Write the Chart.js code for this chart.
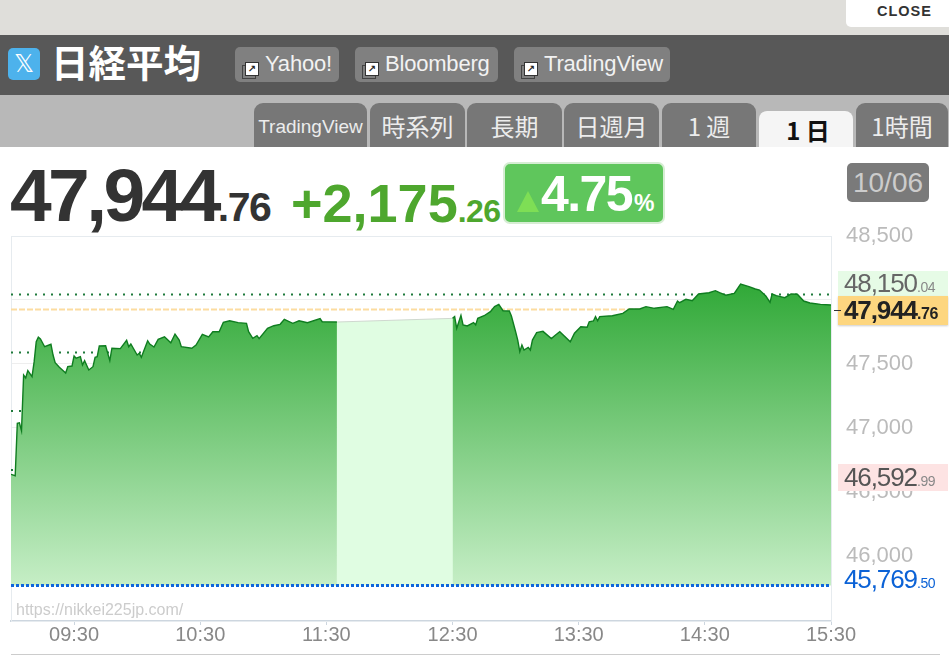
<!DOCTYPE html>
<html lang="ja">
<head>
<meta charset="utf-8">
<title>日経平均</title>
<script src="https://cdn.jsdelivr.net/npm/chart.js@4/dist/chart.umd.min.js"></script>
<style>
  html, body { margin: 0; padding: 0; background: #fff; }
  body { position: relative; width: 949px; height: 655px; overflow: hidden; font-family: "Liberation Sans", "Noto Sans CJK JP", sans-serif; }
  .abs { position: absolute; white-space: nowrap; }
  #topband { left: 0; top: 0; width: 949px; height: 35px; background: #dfdeda; }
  #close { left: 846px; top: 0; width: 103px; height: 27px; background: #fff; border-bottom-left-radius: 5px; font: bold 14.5px/23px "Liberation Sans"; letter-spacing: 1px; color: #333; text-indent: 31px; }
  #headband { left: 0; top: 35px; width: 949px; height: 60px; background: #585858; }
  #xicon { left: 8px; top: 48px; width: 32px; height: 32px; border-radius: 5px; background: #4db2ec; color: #fff; font: 25px/32px "DejaVu Sans"; text-align: center; }
  #title { left: 51px; top: 34px; font: bold 37.5px/54px "Noto Sans CJK JP"; color: #fff; }
  .link { top: 47px; height: 35px; background: #808080; border-radius: 5px; color: #f2f2f2; font-size: 22px; line-height: 33px; }
  .link span { position: absolute; left: 30px; top: 0; letter-spacing: -0.2px; }
  .link i { position: absolute; left: 10px; top: 15px; width: 12px; height: 12px; background: #fff; border: 1px solid #333; font: bold 10px/12px "DejaVu Sans"; text-align: center; color: #222; box-shadow: -3px 3px 0 -1px #808080, -3px 3px 0 0 #444; }
  #tabband { left: 0; top: 95px; width: 949px; height: 52px; background: #b8b8b8; }
  .tab { top: 103px; height: 44px; background: #777; border-radius: 9px 9px 0 0; color: #ececec; text-align: center; font: 400 24px/46px "Noto Sans CJK JP"; }
  #tabActive { top: 111px; height: 36px; background: #f5f5f5; color: #111; font-weight: 700; line-height: 37px; border-radius: 8px 8px 0 0; text-indent: 4px; }
  #price { left: 10px; top: 151px; font: bold 75px/88px "Liberation Sans"; letter-spacing: -3.6px; color: #333; }
  #price small { font-size: 41px; letter-spacing: -1.5px; }
  #change { left: 291px; top: 170px; font: bold 54px/66px "Liberation Sans"; color: #4ea72e; }
  #change small { font-size: 32px; letter-spacing: -0.5px; }
  #badge { left: 503px; top: 162px; width: 158px; height: 58px; background: #5fc65c; border: 2px solid #d6edd3; border-radius: 7px; }
  #tri { left: 12px; top: 27px; width: 0; height: 0; border-left: 11px solid transparent; border-right: 11px solid transparent; border-bottom: 21px solid #7ede55; }
  #pct { left: 36px; top: 0; font: bold 50px/60px "Liberation Sans"; letter-spacing: -1.6px; color: #fff; }
  #pct small { font-size: 23px; letter-spacing: 0; margin-left: 2px; }
  #date { left: 847px; top: 163px; width: 82px; height: 39px; background: #7a7a7a; border-radius: 5px; color: #ccc; text-align: center; font-size: 28px; line-height: 39px; }
  #chartCanvas { position: absolute; left: 0; top: 210px; }
  .side { left: 838px; width: 110px; font-size: 26px; letter-spacing: -1.1px; text-indent: 6px; }
  .side small { font-size: 14px; letter-spacing: -0.4px; }
  #sideHigh { top: 271px; height: 25px; line-height: 25px; background: #e6fbe6; color: #666; }
  #sideHigh small, #sideLow small { color: #888; }
  #sideNow { top: 296px; height: 29px; line-height: 28px; background: #fdd67f; color: #222; font-weight: bold; box-shadow: 0 1px 2px #ccc; }
  #sideNow small { font-size: 16px; }
  #sideLow { top: 464px; height: 27px; line-height: 26px; background: #fde3e3; color: #555; }
  #sideBase { top: 565px; height: 28px; line-height: 28px; color: #0b62d6; }
  #nowTick { left: 834px; top: 310px; width: 7px; height: 1px; background: #333; }
  #watermark { left: 16px; top: 600px; font-size: 16px; line-height: 20px; color: #ccc; }
  #footline { left: 11px; top: 654px; width: 929px; height: 1px; background: #ccc; }
</style>
</head>
<body>
<div class="abs" id="topband"></div>
<div class="abs" id="close">CLOSE</div>
<div class="abs" id="headband"></div>
<div class="abs" id="xicon">𝕏</div>
<div class="abs" id="title">日経平均</div>
<div class="abs link" style="left:235px;width:104px"><i>↗</i><span>Yahoo!</span></div>
<div class="abs link" style="left:355px;width:143px"><i>↗</i><span>Bloomberg</span></div>
<div class="abs link" style="left:514px;width:156px"><i>↗</i><span>TradingView</span></div>
<div class="abs" id="tabband"></div>
<div class="abs tab" style="left:254px;width:113px;font:19px/47px 'Liberation Sans'">TradingView</div>
<div class="abs tab" style="left:370px;width:95px">時系列</div>
<div class="abs tab" style="left:467px;width:95px">長期</div>
<div class="abs tab" style="left:564px;width:95px">日週月</div>
<div class="abs tab" style="left:662px;width:94px">1 週</div>
<div class="abs tab" id="tabActive" style="left:759px;width:94px">1 日</div>
<div class="abs tab" style="left:856px;width:92px">1時間</div>
<div class="abs" id="price">47,944<small>.76</small></div>
<div class="abs" id="change">+2,175<small>.26</small></div>
<div class="abs" id="badge"><div class="abs" id="tri"></div><div class="abs" id="pct">4.75<small>%</small></div></div>
<div class="abs" id="date">10/06</div>
<canvas id="chartCanvas" width="949" height="445"></canvas>
<div class="abs side" id="sideHigh">48,150<small>.04</small></div>
<div class="abs side" id="sideNow">47,944<small>.76</small></div>
<div class="abs side" id="sideLow">46,592<small>.99</small></div>
<div class="abs side" id="sideBase">45,769<small>.50</small></div>
<div class="abs" id="nowTick"></div>
<div class="abs" id="watermark">https://nikkei225jp.com/</div>
<div class="abs" id="footline"></div>

<script>
// minutes after 09:00
const xTicks = [30, 90, 150, 210, 270, 330, 390];
const xTickLabels = ["09:30", "10:30", "11:30", "12:30", "13:30", "14:30", "15:30"];
const yTicks = [46000, 46500, 47000, 47500, 48000, 48500];

const morningMinutes = [0, 2, 3, 4, 5, 6, 7, 8, 10, 11, 12, 13, 14, 16, 19, 20, 21, 23, 26, 27, 29, 30, 31, 33, 34, 35, 37, 39, 40, 41, 42, 45, 47, 48, 52, 55, 56, 57, 60, 61, 62, 65, 66, 68, 70, 73, 76, 78, 80, 81, 86, 88, 91, 94, 96, 99, 101, 104, 108, 112, 113, 115, 117, 118, 122, 125, 128, 130, 134, 137, 141, 147, 148, 155];
const morningValues = [46638, 46627, 47037, 47041, 46979, 47414, 47391, 47448, 47401, 47516, 47674, 47709, 47695, 47635, 47654, 47570, 47510, 47474, 47430, 47479, 47484, 47562, 47545, 47557, 47492, 47526, 47453, 47479, 47552, 47557, 47641, 47643, 47526, 47623, 47620, 47685, 47635, 47656, 47570, 47584, 47552, 47682, 47656, 47633, 47693, 47713, 47666, 47734, 47687, 47635, 47623, 47648, 47732, 47711, 47752, 47752, 47826, 47838, 47823, 47818, 47752, 47701, 47721, 47698, 47779, 47799, 47810, 47849, 47818, 47838, 47823, 47854, 47830, 47828];

const afternoonMinutes = [210, 211, 212, 214, 215, 217, 220, 221, 222, 225, 228, 230, 232, 234, 237, 238, 240, 241, 242, 243, 244, 246, 247, 248, 250, 253, 257, 259, 261, 266, 268, 271, 274, 275, 277, 278, 279, 280, 286, 291, 294, 299, 302, 306, 312, 315, 317, 318, 321, 324, 327, 332, 335, 337, 340, 344, 347, 351, 354, 356, 359, 361, 362, 364, 368, 371, 374, 377, 380, 385, 390];
const afternoonValues = [47857, 47870, 47779, 47880, 47805, 47797, 47823, 47805, 47857, 47877, 47909, 47948, 47966, 47916, 47914, 47875, 47752, 47687, 47596, 47648, 47609, 47630, 47609, 47687, 47745, 47755, 47698, 47727, 47752, 47674, 47740, 47791, 47787, 47830, 47836, 47870, 47838, 47870, 47877, 47896, 47930, 47930, 47948, 47935, 47948, 47927, 47992, 47979, 48005, 47995, 48047, 48057, 48073, 48057, 48037, 48052, 48125, 48104, 48086, 48078, 48031, 47982, 48047, 48034, 48018, 48047, 48045, 47992, 47977, 47966, 47961];

const lunchMinutes = [155, 211];
const lunchValues = [47828, 47857];

const prevCloseLevel = 45769.5;
const orangeLevel = 47926;
const greenLevels = [48043, 47590, 47133, 46672, 46215];

const toPoints = (xs, ys) => xs.map((x, i) => ({ x: x, y: ys[i] }));
const flatLine = (level) => toPoints([0, 390], [level, level]);

const areaGradient = (context) => {
  const chart = context.chart;
  if (!chart.chartArea) return "#5fc05f";
  const yScale = chart.scales.y;
  const g = chart.ctx.createLinearGradient(0, yScale.getPixelForValue(48150), 0, yScale.getPixelForValue(prevCloseLevel));
  g.addColorStop(0, "#2fa836");
  g.addColorStop(1, "#c6eec6");
  return g;
};

const datasets = [
  { data: flatLine(prevCloseLevel), borderColor: "#0d66dc", borderWidth: 3, borderDash: [3, 2], order: 0 },
  { data: toPoints(morningMinutes, morningValues), borderColor: "#0f7d20", borderWidth: 1.4, backgroundColor: areaGradient, fill: { value: prevCloseLevel }, order: 1 },
  { data: toPoints(afternoonMinutes, afternoonValues), borderColor: "#0f7d20", borderWidth: 1.4, backgroundColor: areaGradient, fill: { value: prevCloseLevel }, order: 1 },
  { data: toPoints(lunchMinutes, lunchValues), borderColor: "#cfd8cf", borderWidth: 1, backgroundColor: "#e0fde2", fill: { value: prevCloseLevel }, order: 2 },
  { data: flatLine(orangeLevel), borderColor: "#fcdca0", borderWidth: 2, borderDash: [6, 2], order: 3 },
];
greenLevels.forEach((level) => {
  datasets.push({ data: flatLine(level), borderColor: "#1f7a3c", borderWidth: 2, borderDash: [2, 6], order: 3 });
});

// thin frame round the plot
const plotFrame = {
  id: "plotFrame",
  beforeDatasetsDraw(chart) {
    const a = chart.chartArea;
    chart.ctx.save();
    chart.ctx.strokeStyle = "#e6ebef";
    chart.ctx.lineWidth = 1;
    chart.ctx.strokeRect(a.left + 0.5, a.top + 0.5, a.right - a.left, a.bottom - a.top);
    chart.ctx.restore();
  },
};

new Chart(document.getElementById("chartCanvas").getContext("2d"), {
  type: "line",
  data: { datasets: datasets },
  plugins: [plotFrame],
  options: {
    responsive: false,
    animation: false,
    devicePixelRatio: 1,
    elements: { point: { radius: 0 }, line: { tension: 0 } },
    layout: { padding: { left: 11, top: 26, right: 0, bottom: 0 } },
    plugins: { legend: { display: false }, tooltip: { enabled: false } },
    scales: {
      x: {
        type: "linear",
        min: 0,
        max: 390,
        afterBuildTicks: (scale) => { scale.ticks = xTicks.map((v) => ({ value: v })); },
        afterFit: (scale) => { scale.height = 34; scale.paddingLeft = 0; scale.paddingRight = 0; },
        border: { color: "#cdd6df", width: 2 },
        grid: { drawOnChartArea: false, color: "#cdd6df", tickLength: 4 },
        ticks: {
          autoSkip: false,
          maxRotation: 0,
          padding: -2,
          color: "#888",
          font: { family: "Liberation Sans", size: 20 },
          callback: (v) => xTickLabels[xTicks.indexOf(v)],
        },
      },
      y: {
        position: "right",
        min: 45492,
        max: 48500,
        afterBuildTicks: (scale) => { scale.ticks = yTicks.map((v) => ({ value: v })); },
        afterFit: (scale) => { scale.width = 118; scale.paddingTop = 0; scale.paddingBottom = 0; },
        border: { color: "#e6ebef" },
        grid: { color: "#eeeeee", drawTicks: false },
        ticks: {
          padding: 15,
          color: "#bbb",
          font: { family: "Liberation Sans", size: 22 },
          callback: (v) => v.toLocaleString("en-US"),
        },
      },
    },
  },
});
</script>
</body>
</html>
